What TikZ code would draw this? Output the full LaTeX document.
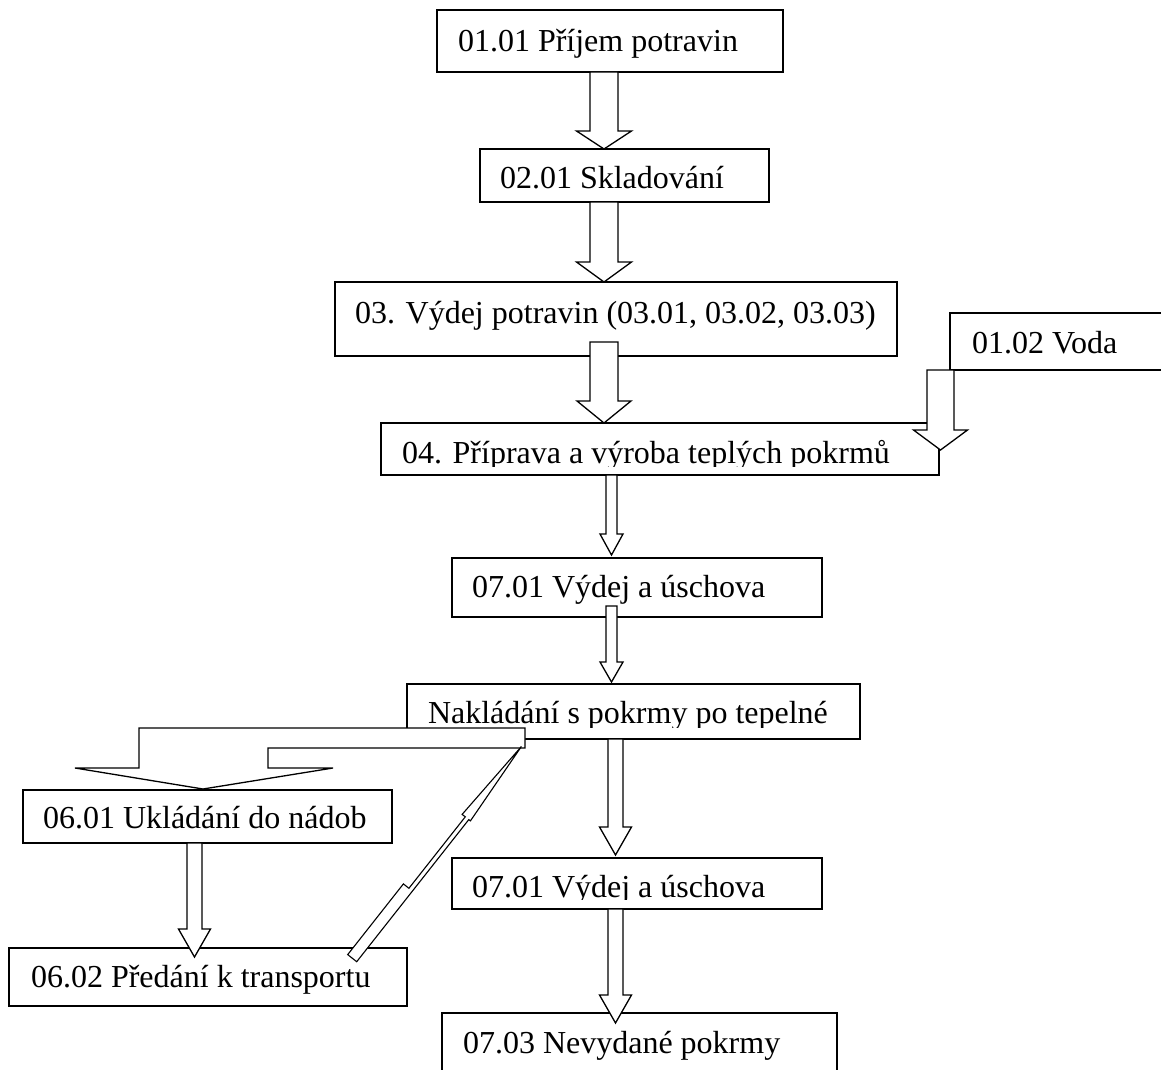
\documentclass[tikz,border=0pt]{standalone}
\usepackage{fontspec}
\setmainfont{Liberation Serif}
\usetikzlibrary{calc}
\newcommand\vblk[6]{% #1 x centre, #2 start point, #3 tip point, #4 shaft half, #5 head half, #6 head length
  \draw[blk] let \p1=(#2), \p2=(#3) in
    ({(#1-#4)*1pt},\y1) -- ({(#1+#4)*1pt},\y1) -- ({(#1+#4)*1pt},{\y2+#6*1pt})
    -- ({(#1+#5)*1pt},{\y2+#6*1pt}) -- ({#1*1pt},\y2) -- ({(#1-#5)*1pt},{\y2+#6*1pt})
    -- ({(#1-#4)*1pt},{\y2+#6*1pt}) -- cycle;}
\begin{document}
\begin{tikzpicture}[x=1pt,y=-1pt,
  box/.style={draw=black, fill=white, line width=1.3pt, inner sep=0pt, outer sep=0pt, anchor=north west},
  lbl/.style={inner sep=0pt, outer sep=0pt, anchor=base west, font=\fontsize{32}{38}\selectfont},
  blk/.style={draw=black, fill=white, line width=1.3pt, line join=miter}]
\useasboundingbox (0,0) rectangle (1161,1070);
\clip (0,0) rectangle (1161,1070);
\fill[white] (0,0) rectangle (1161,1070);

% boxes
\node[box, minimum width=346pt, minimum height=62pt] (b0101) at (437,10) {};
\node[box, minimum width=289pt, minimum height=53pt] (b0201) at (480,149) {};
\node[box, minimum width=562pt, minimum height=74pt] (b03) at (335,282) {};
\node[box, minimum width=240pt, minimum height=57pt] (bvoda) at (950,313) {};
\node[box, minimum width=558pt, minimum height=52pt] (b04) at (381,423) {};
\node[box, minimum width=370pt, minimum height=59pt] (b0701a) at (452,558) {};
\node[box, minimum width=453pt, minimum height=55pt] (bnak) at (407,684) {};
\node[box, minimum width=369pt, minimum height=53pt] (b0601) at (23,790) {};
\node[box, minimum width=398pt, minimum height=58pt] (b0602) at (9,948) {};
\node[box, minimum width=370pt, minimum height=51pt] (b0701b) at (452,858) {};
\node[box, minimum width=395pt, minimum height=75pt] (b0703) at (442,1013) {};

% block arrows
\vblk{604}{b0101.south}{b0201.north}{14}{27.5}{18}
\vblk{604}{b0201.south}{b03.north}{14}{27.5}{20}
\vblk{604}{[yshift=14pt]b03.south}{b04.north}{14}{27}{22}
\vblk{940.5}{bvoda.south west}{[yshift=-27pt]b04.north east}{13.5}{27}{20}
\vblk{611.5}{b04.south}{[yshift=3pt]b0701a.north}{5.5}{11.5}{21}
\vblk{611.5}{[yshift=11pt]b0701a.south}{[yshift=2pt]bnak.north}{5.5}{11.5}{20}
\vblk{615.5}{bnak.south}{[yshift=3pt]b0701b.north}{7.5}{16}{28}
\vblk{615.5}{b0701b.south}{[yshift=-10pt]b0703.north}{7.5}{16}{28}
\vblk{194.5}{b0601.south}{[yshift=-9pt]b0602.north}{7.5}{16}{28}

% bent arrow from Nakladani to 06.01
\draw[blk] (525,728) -- (525,748) -- (268,748) -- (268,768) -- (333,768)
  -- (203,789) -- (75,768) -- (139,768) -- (139,728) -- cycle;

% diagonal arrow from 06.02 up to Nakladani
\draw[blk, line width=1.1pt] (347.7,954.6) -- (403.4,883.9) -- (408.9,888.3) -- (465.3,816.8)
  -- (462.1,814.4) -- (521.4,746.5) -- (470.4,820.9) -- (468.8,819.6)
  -- (356.7,961.7) -- cycle;

% labels
\node[lbl] (t0101) at (458,52) {01.01 Příjem potravin};
\node[lbl] (t0201) at (500,188) {02.01 Skladování};
\node[lbl] (t03) at (355,323) {03. Výdej potravin (03.01, 03.02, 03.03)};
\node[lbl] (tvoda) at (972,353) {01.02 Voda};
\begin{scope}
  \clip (381,423) rectangle (939,466);
  \node[lbl] (t04) at (402,463) {04. Příprava a výroba teplých pokrmů};
\end{scope}
\node[lbl] (t0701a) at (472,597) {07.01 Výdej a úschova};
\begin{scope}
  \clip (407,684) rectangle (860,727);
  \node[lbl] (tnak) at (428,723) {Nakládání s pokrmy po tepelné};
\end{scope}
\node[lbl] (t0601) at (43,828) {06.01 Ukládání do nádob};
\node[lbl] (t0602) at (31,987) {06.02 Předání k transportu};
\begin{scope}
  \clip (452,858) rectangle (822,899);
  \node[lbl] (t0701b) at (472,897) {07.01 Výdej a úschova};
\end{scope}
\node[lbl] (t0703) at (463,1053) {07.03 Nevydané pokrmy};
\end{tikzpicture}
\end{document}
